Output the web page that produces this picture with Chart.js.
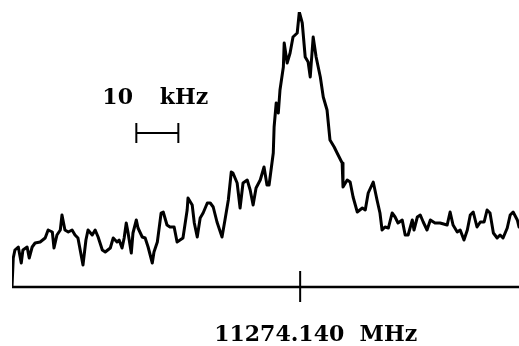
<!DOCTYPE html>
<html>
<head>
<meta charset="utf-8">
<script src="https://cdn.jsdelivr.net/npm/chart.js@4/dist/chart.umd.min.js"></script>
<style>
  html, body { margin: 0; padding: 0; background: #fff; }
  #wrap { width: 519px; height: 346px; position: relative; }
</style>
</head>
<body>
<div id="wrap"><canvas id="spec"></canvas></div>
<script>
// Spectrum around 11274.140 MHz — offset in kHz from line centre, intensity in arbitrary units.
const CENTER_LABEL = '11274.140  MHz';
const SCALE_VALUE = '10';
const SCALE_UNIT = 'kHz';
const SCALE_BAR = [-39.0, -29.0];   // kHz, 10 kHz wide
const SCALE_BAR_LEVEL = 154;        // intensity units
const X_RANGE = [-68.6, 52.1];
const Y_RANGE = [0, 275];

const offsetKHz = [
  -68.6, -68.3, -67.9, -67.1, -66.4, -66.0, -65.0, -64.5, -63.8, -63.1,
  -61.9, -60.7, -60.0, -59.0, -58.6, -57.9, -57.1, -56.7, -56.0, -55.2,
  -54.3, -53.6, -52.9, -51.7, -51.0, -50.5, -49.5, -48.8, -48.1, -47.1,
  -46.4, -45.2, -44.5, -43.6, -43.1, -42.4, -41.9, -41.4, -41.0, -40.2,
  -39.8, -39.0, -38.6, -37.6, -36.9, -36.2, -35.2, -34.8, -34.0, -33.1,
  -32.6, -31.7, -31.0, -30.0, -29.3, -27.9, -26.9, -26.7, -25.7, -25.2,
  -24.5, -23.8, -23.1, -22.1, -21.4, -20.7, -19.8, -18.6, -17.9, -17.1,
  -16.4, -16.0, -15.0, -14.3, -13.6, -12.6, -11.9, -11.2, -10.5, -9.5,
  -8.6, -7.9, -7.4, -6.4, -6.2, -5.7, -5.2, -4.8, -4.0, -3.8,
  -3.1, -2.4, -1.7, -0.7, -0.2, 0.5, 1.2, 1.9, 2.4, 3.1,
  3.8, 4.8, 5.5, 6.4, 7.1, 8.1, 8.8, 10.0, 10.2, 11.2,
  11.9, 12.6, 13.6, 14.8, 15.5, 16.2, 17.4, 18.3, 19.0, 19.5,
  20.2, 21.0, 21.9, 22.6, 23.3, 24.3, 25.0, 25.7, 26.7, 27.1,
  27.9, 28.6, 29.3, 30.2, 31.0, 32.1, 33.3, 35.0, 35.7, 36.4,
  37.4, 38.1, 39.0, 39.8, 40.5, 41.2, 42.1, 42.9, 43.8, 44.5,
  45.2, 46.0, 46.9, 47.6, 48.3, 49.3, 50.0, 50.7, 51.7, 52.1
];

const intensity = [
  0, 29, 37, 40, 24, 37, 40, 29, 40, 44,
  45, 49, 57, 55, 39, 52, 57, 72, 57, 55,
  57, 52, 49, 22, 47, 57, 52, 57, 50, 37,
  35, 39, 49, 45, 47, 39, 49, 64, 55, 34,
  54, 67, 59, 50, 49, 40, 24, 35, 45, 74,
  75, 62, 60, 60, 45, 49, 77, 89, 82, 64,
  50, 69, 74, 84, 84, 80, 65, 50, 67, 87,
  115, 114, 104, 79, 104, 107, 97, 82, 99, 107,
  120, 102, 102, 134, 160, 184, 174, 197, 220, 244,
  224, 234, 250, 254, 275, 264, 230, 225, 210, 250,
  230, 210, 190, 177, 147, 140, 134, 124, 100, 107,
  105, 90, 75, 79, 77, 94, 105, 87, 74, 57,
  60, 59, 74, 70, 64, 67, 52, 52, 67, 57,
  70, 72, 65, 57, 67, 64, 64, 62, 75, 62,
  55, 57, 47, 57, 72, 75, 60, 65, 65, 77,
  74, 54, 49, 52, 49, 59, 72, 75, 67, 60
];

const FONT = 'bold 22px "DejaVu Serif", "Liberation Serif", serif';

// baseline, centre tick, frequency label and the 10 kHz scale bar
const annotations = {
  id: 'annotations',
  afterDatasetsDraw(chart) {
    const { ctx, scales: { x, y } } = chart;
    const y0 = y.getPixelForValue(0);
    const xL = x.getPixelForValue(X_RANGE[0]);
    const xR = x.getPixelForValue(X_RANGE[1]);
    const xc = x.getPixelForValue(0);
    ctx.save();
    ctx.strokeStyle = '#000';
    ctx.lineWidth = 2.5;
    ctx.beginPath();
    ctx.moveTo(xL, y0); ctx.lineTo(xR, y0);
    ctx.stroke();
    ctx.lineWidth = 2;
    ctx.beginPath();
    ctx.moveTo(xc, y0 - 16); ctx.lineTo(xc, y0 + 15);
    ctx.stroke();

    ctx.fillStyle = '#000';
    ctx.font = FONT;
    ctx.textAlign = 'left';
    ctx.textBaseline = 'alphabetic';
    ctx.fillText(CENTER_LABEL, xc - 86, y0 + 54);

    const b0 = x.getPixelForValue(SCALE_BAR[0]);
    const b1 = x.getPixelForValue(SCALE_BAR[1]);
    const by = y.getPixelForValue(SCALE_BAR_LEVEL);
    ctx.lineWidth = 2;
    ctx.beginPath();
    ctx.moveTo(b0, by); ctx.lineTo(b1, by);
    ctx.moveTo(b0, by - 10); ctx.lineTo(b0, by + 10);
    ctx.moveTo(b1, by - 10); ctx.lineTo(b1, by + 10);
    ctx.stroke();
    ctx.fillText(SCALE_VALUE, b0 - 34, by - 29);
    ctx.textAlign = 'right';
    ctx.fillText(SCALE_UNIT, b1 + 30, by - 29);
    ctx.restore();
  }
};

new Chart(document.getElementById('spec'), {
  type: 'line',
  data: {
    datasets: [{
      data: offsetKHz.map((v, i) => ({ x: v, y: intensity[i] })),
      borderColor: '#000',
      borderWidth: 3,
      pointRadius: 0,
      tension: 0,
      fill: false,
      borderJoinStyle: 'round',
      borderCapStyle: 'round',
    }],
  },
  options: {
    responsive: true,
    maintainAspectRatio: false,
    animation: false,
    layout: { padding: { left: 12, right: 0, top: 12, bottom: 59 } },
    plugins: { legend: { display: false }, tooltip: { enabled: false } },
    scales: {
      x: { type: 'linear', min: X_RANGE[0], max: X_RANGE[1], display: false },
      y: { min: Y_RANGE[0], max: Y_RANGE[1], display: false },
    },
  },
  plugins: [annotations],
});
</script>
</body>
</html>
